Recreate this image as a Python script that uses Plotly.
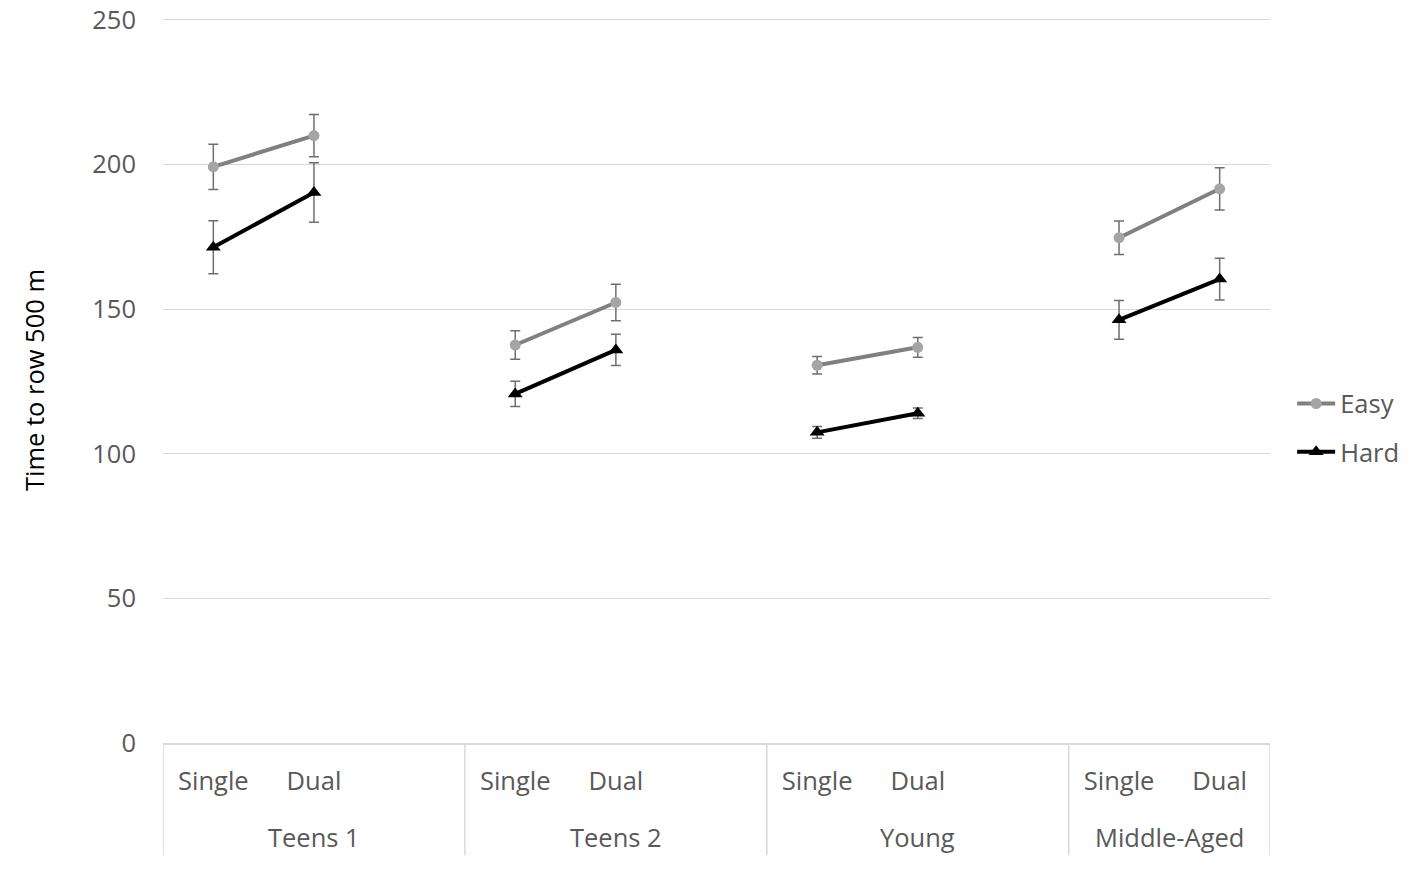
import plotly.graph_objects as go

# Group means and error bars
groups = ["Teens 1", "Teens 2", "Young", "Middle-Aged"]
conditions = ["Single", "Dual"]

easy_single = [199.2, 137.6, 130.6, 174.7]
easy_dual = [210.0, 152.3, 136.8, 191.6]
easy_single_err = [7.8, 4.9, 3.0, 5.8]
easy_dual_err = [7.3, 6.3, 3.4, 7.3]

hard_single = [171.4, 120.7, 107.4, 146.3]
hard_dual = [190.3, 135.9, 114.0, 160.4]
hard_single_err = [9.2, 4.4, 2.0, 6.7]
hard_dual_err = [10.3, 5.4, 1.8, 7.2]

y_ticks = [0, 50, 100, 150, 200, 250]

FONT = "Open Sans"
GRID = "#d9d9d9"
TEXT = "#595959"
FS = 25.5

# every group but the last has an empty third slot after Single and Dual
x_pos = []
group_start = []
pos = 0
for g in range(len(groups)):
    group_start.append(pos)
    x_pos += [pos, pos + 1]
    if g < len(groups) - 1:
        x_pos.append(pos + 2)
        pos += 3
    else:
        pos += 2
n_slots = pos


def spread(single, dual):
    out = []
    for i, (a, b) in enumerate(zip(single, dual)):
        out += [a, b]
        if i < len(single) - 1:
            out.append(None)
    return out


fig = go.Figure()

fig.add_trace(go.Scatter(
    x=x_pos, y=spread(easy_single, easy_dual),
    name="Easy", legendgroup="easy", mode="lines+markers", connectgaps=False,
    line=dict(color="#808080", width=4),
    marker=dict(symbol="circle", size=11, color="#a5a5a5"),
    error_y=dict(type="data", array=spread(easy_single_err, easy_dual_err),
                 color="#6f6f6f", thickness=1.5, width=5),
))

fig.add_trace(go.Scatter(
    x=x_pos, y=spread(hard_single, hard_dual),
    name="Hard", legendgroup="hard", mode="lines+markers", connectgaps=False,
    line=dict(color="black", width=4),
    marker=dict(symbol="triangle-up", size=13, color="black"),
    error_y=dict(type="data", array=spread(hard_single_err, hard_dual_err),
                 color="#6f6f6f", thickness=1.5, width=5),
))

tick_vals = []
tick_text = []
for start in group_start:
    for s, c in enumerate(conditions):
        tick_vals.append(start + s)
        tick_text.append(c)

# group labels and divider lines of the category table
edges = group_start + [n_slots]
for g, name in enumerate(groups):
    centre = (edges[g] + edges[g + 1] - 1) / 2
    fig.add_annotation(x=centre, y=-0.13, xref="x", yref="paper",
                       text=name, showarrow=False, yanchor="middle",
                       font=dict(family=FONT, size=FS, color=TEXT))
for e in edges:
    fig.add_shape(type="line", xref="x", yref="paper",
                  x0=e - 0.5, x1=e - 0.5, y0=0, y1=-0.155,
                  line=dict(color=GRID, width=1.5))

fig.update_layout(
    width=1409, height=861,
    margin=dict(l=155, r=147, t=9, b=126, autoexpand=False),
    plot_bgcolor="white", paper_bgcolor="white",
    font=dict(family=FONT, size=FS, color=TEXT),
    legend=dict(x=1.02, y=0.434, xanchor="left", yanchor="middle",
                font=dict(family=FONT, size=FS, color=TEXT),
                tracegroupgap=12, itemwidth=38),
)

fig.update_xaxes(
    range=[-0.5, n_slots - 0.5], automargin=False,
    tickvals=tick_vals, ticktext=tick_text,
    showgrid=False, zeroline=False,
    showline=True, linecolor=GRID, linewidth=1.5,
    ticks="", ticklabelstandoff=15,
    tickfont=dict(family=FONT, size=FS, color=TEXT),
)

fig.update_yaxes(
    range=[0, 251], tickvals=y_ticks, automargin=False,
    showgrid=True, gridcolor=GRID, gridwidth=1,
    zeroline=False, showline=False, ticks="", ticklabelstandoff=26,
    ticklabeloverflow="allow",
    tickfont=dict(family=FONT, size=FS, color=TEXT),
    title=dict(text="Time to row 500 m", standoff=40,
               font=dict(family=FONT, size=FS, color="black")),
)

fig.write_html("out.html")
